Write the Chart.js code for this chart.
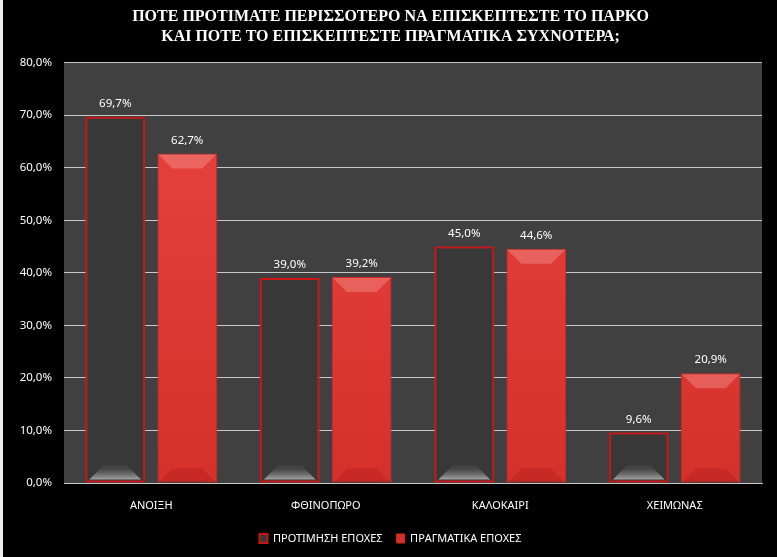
<!DOCTYPE html>
<html lang="el">
<head>
    <meta charset="UTF-8">
    <title>ΠΟΤΕ ΠΡΟΤΙΜΑΤΕ ΠΕΡΙΣΣΟΤΕΡΟ ΝΑ ΕΠΙΣΚΕΠΤΕΣΤΕ ΤΟ ΠΑΡΚΟ</title>
    <script src="https://cdn.jsdelivr.net/npm/chart.js"></script>
    <style>
        html, body { margin: 0; padding: 0; background: #000; }
        body { border-left: 3px solid #eeeeee; width: 774px; height: 557px; }
        #wrap { width: 774px; height: 557px; }
    </style>
</head>
<body>
<div id="wrap"><canvas id="barChart"></canvas></div>

<script>
    // données
    const categories = ['ΑΝΟΙΞΗ', 'ΦΘΙΝΟΠΩΡΟ', 'ΚΑΛΟΚΑΙΡΙ', 'ΧΕΙΜΩΝΑΣ'];
    const protimisi = [69.7, 39.0, 45.0, 9.6];
    const pragmatika = [62.7, 39.2, 44.6, 20.9];
    const seriesNames = ['ΠΡΟΤΙΜΗΣΗ ΕΠΟΧΕΣ', 'ΠΡΑΓΜΑΤΙΚΑ ΕΠΟΧΕΣ'];
    const titleLines = ['ΠΟΤΕ ΠΡΟΤΙΜΑΤΕ ΠΕΡΙΣΣΟΤΕΡΟ ΝΑ ΕΠΙΣΚΕΠΤΕΣΤΕ ΤΟ ΠΑΡΚΟ',
                        'ΚΑΙ ΠΟΤΕ ΤΟ ΕΠΙΣΚΕΠΤΕΣΤΕ ΠΡΑΓΜΑΤΙΚΑ ΣΥΧΝΟΤΕΡΑ;'];

    const fmt = v => v.toFixed(1).replace('.', ',') + '%';

    // fond gris de la zone de tracé
    const plotBg = {
        id: 'plotBg',
        beforeDraw(chart) {
            const {ctx, chartArea: a} = chart;
            ctx.save();
            ctx.fillStyle = '#404040';
            ctx.fillRect(a.left, a.top, a.right - a.left, a.bottom - a.top);
            ctx.restore();
        }
    };

    // halo rouge autour des barres sombres
    const glow = {
        id: 'glow',
        beforeDatasetDraw(chart, args) {
            chart.ctx.save();
            if (args.index === 0) {
                chart.ctx.shadowColor = 'rgba(230,30,30,0.8)';
                chart.ctx.shadowBlur = 5;
            }
        },
        afterDatasetDraw(chart) {
            chart.ctx.restore();
        }
    };

    // biseaux + étiquettes au-dessus des barres
    const barDeco = {
        id: 'barDeco',
        afterDatasetsDraw(chart) {
            const ctx = chart.ctx;
            chart.data.datasets.forEach((ds, i) => {
                chart.getDatasetMeta(i).data.forEach((bar, j) => {
                    const l = bar.x - bar.width / 2, r = bar.x + bar.width / 2;
                    const t = bar.y, b = bar.base;
                    const d = Math.min(14, (b - t) / 2);
                    ctx.save();
                    if (i === 0) {
                        const g = ctx.createLinearGradient(0, b - d, 0, b);
                        g.addColorStop(0, 'rgba(80,80,80,0.5)');
                        g.addColorStop(1, 'rgba(210,210,210,0.95)');
                        ctx.fillStyle = g;
                        ctx.beginPath();
                        ctx.moveTo(l + 4 + d, b - 3 - d);
                        ctx.lineTo(r - 4 - d, b - 3 - d);
                        ctx.lineTo(r - 4, b - 3);
                        ctx.lineTo(l + 4, b - 3);
                        ctx.closePath();
                        ctx.fill();
                    } else {
                        ctx.fillStyle = 'rgba(255,190,185,0.3)';
                        ctx.beginPath();
                        ctx.moveTo(l + 1, t + 1);
                        ctx.lineTo(r - 1, t + 1);
                        ctx.lineTo(r - 1 - d, t + 1 + d);
                        ctx.lineTo(l + 1 + d, t + 1 + d);
                        ctx.closePath();
                        ctx.fill();
                        ctx.fillStyle = 'rgba(150,20,20,0.25)';
                        ctx.beginPath();
                        ctx.moveTo(l + 1, b);
                        ctx.lineTo(r - 1, b);
                        ctx.lineTo(r - 1 - d, b - d);
                        ctx.lineTo(l + 1 + d, b - d);
                        ctx.closePath();
                        ctx.fill();
                    }
                    ctx.fillStyle = '#ffffff';
                    ctx.font = '11.5px "Noto Sans"';
                    ctx.textAlign = 'center';
                    ctx.textBaseline = 'middle';
                    ctx.fillText(fmt(ds.data[j]), bar.x, t - 13);
                    ctx.restore();
                });
            });
        }
    };

    const ctx = document.getElementById('barChart').getContext('2d');
    new Chart(ctx, {
        type: 'bar',
        data: {
            labels: categories,
            datasets: [
                {
                    label: seriesNames[0],
                    data: protimisi,
                    backgroundColor: '#383838',
                    borderColor: '#c81414',
                    borderWidth: 2,
                    borderSkipped: false,
                    categoryPercentage: 0.825,
                    barPercentage: 0.83
                },
                {
                    label: seriesNames[1],
                    data: pragmatika,
                    backgroundColor: function (c) {
                        const a = c.chart.chartArea;
                        if (!a) return '#e23e3a';
                        const g = c.chart.ctx.createLinearGradient(0, a.top, 0, a.bottom);
                        g.addColorStop(0, '#e8443f');
                        g.addColorStop(1, '#d6302b');
                        return g;
                    },
                    borderColor: '#d02a26',
                    borderWidth: 1,
                    borderSkipped: false,
                    categoryPercentage: 0.825,
                    barPercentage: 0.83
                }
            ]
        },
        options: {
            responsive: true,
            maintainAspectRatio: false,
            animation: false,
            layout: { padding: { left: 16, right: 15, top: 0, bottom: 3 } },
            plugins: {
                title: {
                    display: true,
                    text: titleLines,
                    color: '#ffffff',
                    font: { family: '"Liberation Serif"', size: 16, weight: 'bold', lineHeight: 1.3 },
                    padding: { top: 6, bottom: 15 }
                },
                legend: {
                    position: 'bottom',
                    labels: {
                        color: '#ffffff',
                        font: { family: '"Noto Sans"', size: 11 },
                        boxWidth: 8,
                        boxHeight: 9,
                        padding: 14
                    }
                },
                tooltip: { enabled: false }
            },
            scales: {
                x: {
                    afterFit(scale) { scale.height = 36; },
                    grid: { display: false },
                    border: { display: true, color: '#c8c8c8', width: 1 },
                    ticks: {
                        color: '#ffffff',
                        font: { family: '"Noto Sans"', size: 11 },
                        padding: 8
                    }
                },
                y: {
                    min: 0,
                    max: 80,
                    afterFit(scale) { scale.width = 45; },
                    grid: { color: '#c8c8c8', drawTicks: false },
                    border: { display: false },
                    ticks: {
                        stepSize: 10,
                        color: '#ffffff',
                        font: { family: '"Noto Sans"', size: 11.5 },
                        padding: 12,
                        callback: v => fmt(v)
                    }
                }
            }
        },
        plugins: [plotBg, glow, barDeco]
    });
</script>
</body>
</html>
